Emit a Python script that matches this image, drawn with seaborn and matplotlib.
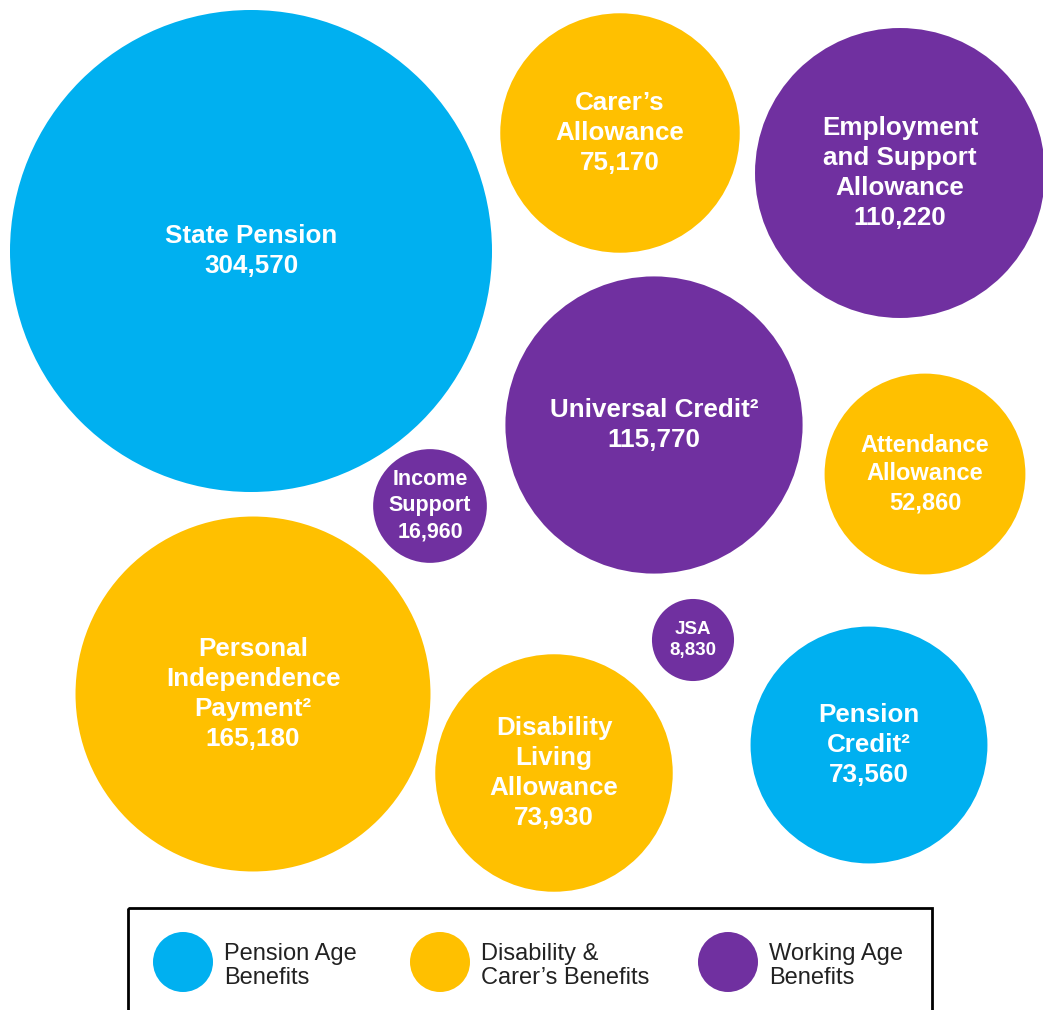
import numpy as np
import pandas as pd
import matplotlib.pyplot as plt
import seaborn as sns
from matplotlib.patches import Rectangle

# benefit caseloads
names = ["State Pension", "Carer’s\nAllowance", "Employment\nand Support\nAllowance",
         "Universal Credit²", "Attendance\nAllowance", "Income\nSupport",
         "Personal\nIndependence\nPayment²", "JSA", "Disability\nLiving\nAllowance",
         "Pension\nCredit²"]
values = [304570, 75170, 110220, 115770, 52860, 16960, 165180, 8830, 73930, 73560]
groups = ["Pension", "Disability", "Working", "Working", "Disability", "Working",
          "Disability", "Working", "Disability", "Pension"]

legend_keys = ["Pension", "Disability", "Working"]
legend_labels = ["Pension Age\nBenefits", "Disability &\nCarer’s Benefits", "Working Age\nBenefits"]

colors = {"Pension": "#00B0F0", "Disability": "#FFC000", "Working": "#7030A0"}

# layout (pixel positions of bubble centres)
cx = [251, 620, 900, 654, 925, 430, 253, 693, 554, 869]
cy = [251, 133, 173, 425, 474, 506, 694, 640, 773, 745]
fsize = [18.7, 18.7, 18.7, 18.7, 17, 15.5, 18.7, 13.5, 18.7, 18.7]

W, H, DPI = 1043, 1010, 100
plt.rcParams['font.family'] = ['Liberation Sans', 'DejaVu Sans']

df = pd.DataFrame({"x": cx, "y": cy, "value": values, "group": groups})

fig = plt.figure(figsize=(W / DPI, H / DPI), dpi=DPI)
ax = fig.add_axes([0, 0, 1, 1])

# marker area proportional to value: radius_px = k*sqrt(v)
k = 0.4367
c = (2 * k * 72 / DPI) ** 2
sns.scatterplot(data=df, x="x", y="y", size="value", hue="group", palette=colors,
                sizes=(c * min(values), c * max(values)), linewidth=0, legend=False, ax=ax)

for x, y, n, v, fs in zip(cx, cy, names, values, fsize):
    ax.text(x, y, f"{n}\n{v:,}", color="white", fontweight="bold", fontsize=fs,
            ha="center", va="center", linespacing=1.32)

# legend box
ax.add_patch(Rectangle((128, 908), 804, 110, fill=False, edgecolor="black", linewidth=2))
lx = [183, 440, 728]
leg = pd.DataFrame({"x": lx, "y": [962] * 3, "group": legend_keys})
sns.scatterplot(data=leg, x="x", y="y", hue="group", palette=colors, s=(60 * 72 / DPI) ** 2,
                linewidth=0, legend=False, ax=ax)
for x, lab in zip(lx, legend_labels):
    ax.text(x + 41, 966, lab, color="#222222", fontsize=17, ha="left", va="center",
            linespacing=1.17)

ax.set_xlim(0, W)
ax.set_ylim(H, 0)
ax.set_axis_off()
fig.savefig("out.png", dpi=DPI)
